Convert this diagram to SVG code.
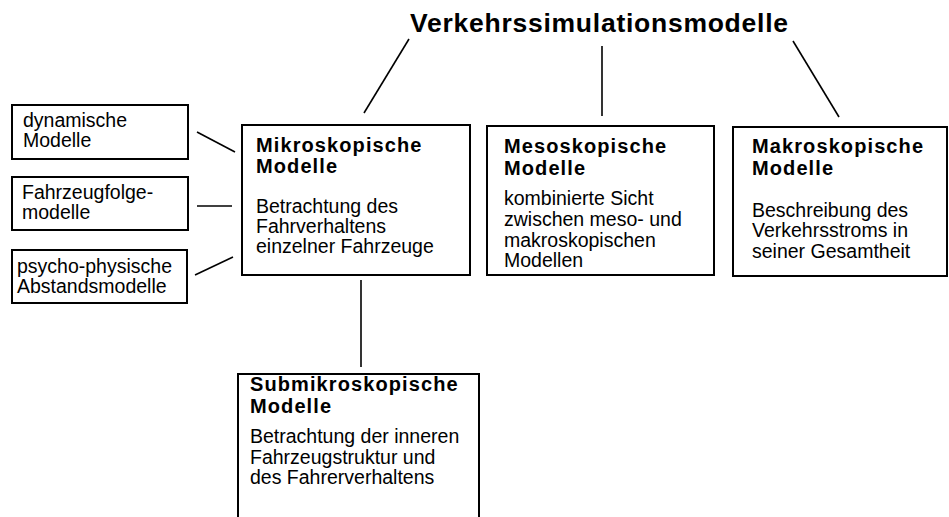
<svg xmlns="http://www.w3.org/2000/svg" width="949" height="517" viewBox="0 0 949 517">
  <style>
    .box { fill: #fff; stroke: #000; stroke-width: 2; }
    .link { stroke: #000; stroke-width: 1.6; fill: none; }
    text { font-family: "Liberation Sans", Arial, sans-serif; fill: #000; }
    .head { font-weight: bold; font-size: 20px; letter-spacing: 1.1px; }
    .body { font-size: 19.5px; }
    .main { font-weight: bold; font-size: 26.5px; }
  </style>
  <rect width="949" height="517" fill="#fff"/>

  <g id="title">
    <text class="main" x="410" y="32" textLength="378" lengthAdjust="spacing">Verkehrssimulationsmodelle</text>
  </g>

  <g id="connectors">
    <line class="link" x1="409" y1="39" x2="364" y2="113"/>
    <line class="link" x1="602" y1="46" x2="602" y2="116"/>
    <line class="link" x1="793" y1="41" x2="839" y2="117"/>
    <line class="link" x1="197" y1="132" x2="235" y2="152"/>
    <line class="link" x1="197" y1="206" x2="232" y2="206"/>
    <line class="link" x1="195" y1="275" x2="233" y2="257"/>
    <line class="link" x1="361" y1="280" x2="361" y2="367"/>
  </g>

  <g id="dynamisch">
    <rect class="box" x="12" y="105" width="176" height="54"/>
    <text class="body" x="23" y="127">dynamische</text>
    <text class="body" x="23" y="147">Modelle</text>
  </g>

  <g id="fahrzeugfolge">
    <rect class="box" x="12" y="177" width="176" height="53"/>
    <text class="body" x="22" y="199">Fahrzeugfolge-</text>
    <text class="body" x="22" y="219">modelle</text>
  </g>

  <g id="abstand">
    <rect class="box" x="12" y="250" width="175" height="53"/>
    <text class="body" x="17" y="273">psycho-physische</text>
    <text class="body" x="17" y="293">Abstandsmodelle</text>
  </g>

  <g id="mikro">
    <rect class="box" x="242" y="125" width="228" height="150"/>
    <text class="head" x="256" y="152">Mikroskopische</text>
    <text class="head" x="256" y="173">Modelle</text>
    <text class="body" x="256" y="213">Betrachtung des</text>
    <text class="body" x="256" y="233">Fahrverhaltens</text>
    <text class="body" x="256" y="253">einzelner Fahrzeuge</text>
  </g>

  <g id="meso">
    <rect class="box" x="487" y="126" width="227" height="149"/>
    <text class="head" x="504" y="153">Mesoskopische</text>
    <text class="head" x="504" y="175">Modelle</text>
    <text class="body" x="504" y="205">kombinierte Sicht</text>
    <text class="body" x="504" y="226">zwischen meso- und</text>
    <text class="body" x="504" y="247">makroskopischen</text>
    <text class="body" x="504" y="267">Modellen</text>
  </g>

  <g id="makro">
    <rect class="box" x="733" y="127" width="214" height="149"/>
    <text class="head" x="752" y="153">Makroskopische</text>
    <text class="head" x="752" y="175">Modelle</text>
    <text class="body" x="752" y="217">Beschreibung des</text>
    <text class="body" x="752" y="237">Verkehrsstroms in</text>
    <text class="body" x="752" y="258">seiner Gesamtheit</text>
  </g>

  <g id="submikro">
    <rect class="box" x="238" y="374" width="241" height="160"/>
    <text class="head" x="250" y="391">Submikroskopische</text>
    <text class="head" x="250" y="413">Modelle</text>
    <text class="body" x="250" y="443">Betrachtung der inneren</text>
    <text class="body" x="250" y="464">Fahrzeugstruktur und</text>
    <text class="body" x="250" y="484">des Fahrerverhaltens</text>
  </g>
</svg>
